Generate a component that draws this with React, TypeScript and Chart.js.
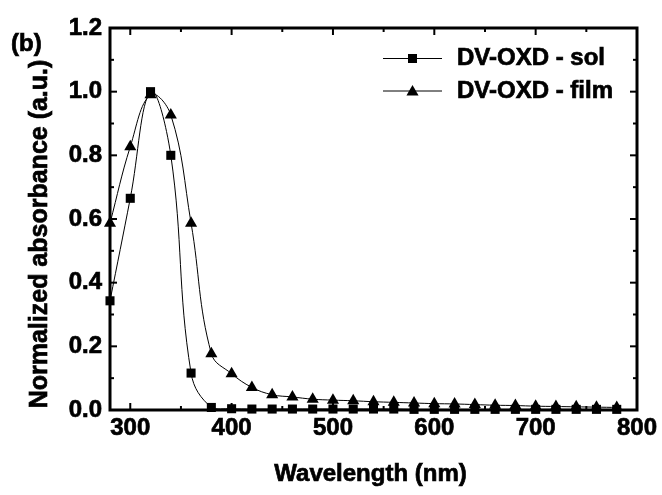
import { useEffect, useRef } from "react";
import { Chart, registerables } from "chart.js";

Chart.register(...registerables);

const wavelengths = [280, 300, 320, 340, 360, 380, 400, 420, 440, 460, 480, 500, 520, 540, 560, 580, 600, 620, 640, 660, 680, 700, 720, 740, 760, 780];
const solValues = [0.343, 0.665, 1.0, 0.8, 0.116, 0.008, 0.004, 0.003, 0.003, 0.003, 0.003, 0.003, 0.003, 0.003, 0.003, 0.002, 0.002, 0.002, 0.002, 0.002, 0.002, 0.002, 0.002, 0.002, 0.002, 0.002];
const filmValues = [0.587, 0.827, 0.99, 0.927, 0.587, 0.177, 0.114, 0.071, 0.048, 0.041, 0.034, 0.031, 0.029, 0.026, 0.024, 0.022, 0.02, 0.019, 0.017, 0.015, 0.014, 0.012, 0.011, 0.01, 0.009, 0.008];
const seriesLabels = ["DV-OXD - sol", "DV-OXD - film"];
const xTickValues = [300, 400, 500, 600, 700, 800];
const xMinorTickValues = [350, 450, 550, 650, 750];
const yTickValues = [0, 0.2, 0.4, 0.6, 0.8, 1.0, 1.2];
const yMinorTickValues = [0.1, 0.3, 0.5, 0.7, 0.9, 1.1];
const xTitle = "Wavelength (nm)";
const yTitle = "Normalized absorbance (a.u.)";
const panelLabel = "(b)";

const FONT = "'Liberation Sans', Arial, sans-serif";
const STROKE = 0.7;

function drawSquare(ctx: CanvasRenderingContext2D, x: number, y: number, s: number) {
  ctx.fillRect(x - s / 2, y - s / 2, s, s);
}
function drawTriangle(ctx: CanvasRenderingContext2D, x: number, y: number, r: number) {
  ctx.beginPath();
  ctx.moveTo(x, y - r);
  ctx.lineTo(x + r * 0.866, y + r * 0.5);
  ctx.lineTo(x - r * 0.866, y + r * 0.5);
  ctx.closePath();
  ctx.fill();
}
function heavyText(ctx: CanvasRenderingContext2D, t: string, x: number, y: number) {
  ctx.fillText(t, x, y);
  ctx.lineWidth = STROKE;
  ctx.strokeText(t, x, y);
}

const framePlugin = {
  id: "frame",
  beforeDatasetsDraw(chart: any) {
    const { ctx, chartArea } = chart;
    const { left, right, top, bottom } = chartArea;
    const xs = chart.scales.x;
    const ys = chart.scales.y;
    ctx.save();
    ctx.strokeStyle = "#000";
    ctx.lineWidth = 2;
    const tick = (x1: number, y1: number, x2: number, y2: number) => {
      ctx.beginPath();
      ctx.moveTo(x1, y1);
      ctx.lineTo(x2, y2);
      ctx.stroke();
    };
    xTickValues.forEach((v) => {
      const px = xs.getPixelForValue(v);
      tick(px, bottom, px, bottom - 7);
      tick(px, top, px, top + 7);
    });
    xMinorTickValues.forEach((v) => {
      const px = xs.getPixelForValue(v);
      tick(px, bottom, px, bottom - 4);
      tick(px, top, px, top + 4);
    });
    yTickValues.forEach((v) => {
      const py = ys.getPixelForValue(v);
      tick(left, py, left + 7, py);
      tick(right, py, right - 7, py);
    });
    yMinorTickValues.forEach((v) => {
      const py = ys.getPixelForValue(v);
      tick(left, py, left + 4, py);
      tick(right, py, right - 4, py);
    });
    ctx.lineWidth = 3;
    ctx.strokeRect(left, top, right - left, bottom - top);
    ctx.restore();
  },
  afterDraw(chart: any) {
    const { ctx, chartArea } = chart;
    ctx.save();
    ctx.fillStyle = "#000";
    ctx.strokeStyle = "#000";
    ctx.font = `bold 24px ${FONT}`;
    ctx.textAlign = "center";
    ctx.textBaseline = "middle";
    heavyText(ctx, xTitle, (chartArea.left + chartArea.right) / 2 - 3, 474);
    ctx.save();
    ctx.font = `bold 25px ${FONT}`;
    ctx.translate(40, 234);
    ctx.rotate(-Math.PI / 2);
    heavyText(ctx, yTitle, 0, 0);
    ctx.restore();
    ctx.textAlign = "left";
    ctx.textBaseline = "alphabetic";
    heavyText(ctx, panelLabel, 11, 51);
    const rows = [58.5, 91];
    rows.forEach((y, i) => {
      ctx.lineWidth = 1;
      ctx.beginPath();
      ctx.moveTo(383, y);
      ctx.lineTo(442, y);
      ctx.stroke();
      if (i === 0) drawSquare(ctx, 412.5, y, 9);
      else drawTriangle(ctx, 412.5, y + 1, 7);
      ctx.textAlign = "left";
      ctx.textBaseline = "middle";
      heavyText(ctx, seriesLabels[i], 457, y);
    });
    ctx.restore();
  },
};

export default function App() {
  const ref = useRef<HTMLCanvasElement | null>(null);
  useEffect(() => {
    if (!ref.current) return;
    const tickFont = { family: FONT, size: 24, weight: "bold" as const };
    const chart = new Chart(ref.current, {
      type: "line",
      data: {
        datasets: [
          {
            label: seriesLabels[0],
            data: wavelengths.map((x, i) => ({ x, y: solValues[i] })),
            borderColor: "#000",
            borderWidth: 1,
            backgroundColor: "#000",
            pointStyle: "rect",
            pointRadius: 6.4,
            pointBackgroundColor: "#000",
            pointBorderWidth: 0,
            tension: 0.4,
            clip: false as any,
          },
          {
            label: seriesLabels[1],
            data: wavelengths.map((x, i) => ({ x, y: filmValues[i] })),
            borderColor: "#000",
            borderWidth: 1,
            backgroundColor: "#000",
            pointStyle: "triangle",
            pointRadius: 7,
            pointBackgroundColor: "#000",
            pointBorderWidth: 0,
            tension: 0.4,
            clip: false as any,
          },
        ],
      },
      options: {
        responsive: false,
        animation: false,
        layout: { padding: { left: 0, right: 25, top: 28, bottom: 0 } },
        plugins: { legend: { display: false }, tooltip: { enabled: false } },
        scales: {
          x: {
            type: "linear",
            min: 280,
            max: 800,
            grid: { display: false, drawTicks: false },
            border: { display: false },
            afterBuildTicks: (s: any) => {
              s.ticks = xTickValues.map((v) => ({ value: v }));
            },
            afterFit: (s: any) => {
              s.height = 85;
            },
            ticks: {
              font: tickFont,
              color: "#000",
              padding: 4,
              maxRotation: 0,
              autoSkip: false,
              textStrokeColor: "#000",
              textStrokeWidth: STROKE,
              callback: (v: any) => String(v),
            },
          },
          y: {
            type: "linear",
            min: 0,
            max: 1.2,
            grid: { display: false, drawTicks: false },
            border: { display: false },
            afterBuildTicks: (s: any) => {
              s.ticks = yTickValues.map((v) => ({ value: v }));
            },
            afterFit: (s: any) => {
              s.width = 110;
            },
            ticks: {
              font: tickFont,
              color: "#000",
              padding: 8,
              autoSkip: false,
              textStrokeColor: "#000",
              textStrokeWidth: STROKE,
              callback: (v: any) => Number(v).toFixed(1),
            },
          },
        },
      },
      plugins: [framePlugin],
    });
    return () => chart.destroy();
  }, []);
  return (
    <div style={{ position: "absolute", left: 0, top: 0, width: 662, height: 495, background: "#fff" }}>
      <canvas ref={ref} width={662} height={495} style={{ width: 662, height: 495 }} />
    </div>
  );
}
